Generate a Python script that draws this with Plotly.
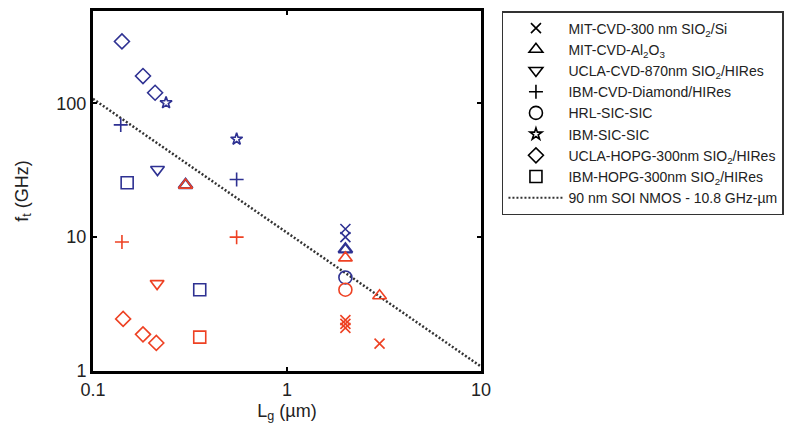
import plotly.graph_objects as go

BLUE = "#2e3192"
RED = "#ee4123"

# ---- data (Lg in um, ft in GHz) ----
mit_cvd_sio2_blue_x = [2.0, 2.0]
mit_cvd_sio2_blue_y = [11.5, 10.0]
mit_cvd_sio2_red_x = [2.0, 2.0, 2.0, 3.0]
mit_cvd_sio2_red_y = [2.4, 2.25, 2.1, 1.6]

mit_al2o3_blue_x = [0.30, 2.0]
mit_al2o3_blue_y = [24.5, 8.1]
mit_al2o3_red_x = [0.30, 2.0, 3.0]
mit_al2o3_red_y = [24.5, 7.0, 3.65]

ucla_cvd_blue_x = [0.215]
ucla_cvd_blue_y = [32]
ucla_cvd_red_x = [0.214]
ucla_cvd_red_y = [4.5]

ibm_diamond_blue_x = [0.139, 0.55]
ibm_diamond_blue_y = [69, 27]
ibm_diamond_red_x = [0.141, 0.55]
ibm_diamond_red_y = [9.2, 10.0]

hrl_sic_blue_x = [2.0]
hrl_sic_blue_y = [5.0]
hrl_sic_red_x = [2.0]
hrl_sic_red_y = [4.05]

ibm_sic_blue_x = [0.238, 0.55]
ibm_sic_blue_y = [101, 54]

ucla_hopg_blue_x = [0.141, 0.181, 0.209]
ucla_hopg_blue_y = [290, 160, 120]
ucla_hopg_red_x = [0.143, 0.181, 0.212]
ucla_hopg_red_y = [2.45, 1.88, 1.62]

ibm_hopg_blue_x = [0.15, 0.355]
ibm_hopg_blue_y = [25.5, 4.05]
ibm_hopg_red_x = [0.355]
ibm_hopg_red_y = [1.79]

soi_x = [0.1, 10]
soi_y = [108, 1.08]

legend_names = [
    "MIT-CVD-300 nm SIO<sub>2</sub>/Si",
    "MIT-CVD-Al<sub>2</sub>O<sub>3</sub>",
    "UCLA-CVD-870nm SIO<sub>2</sub>/HIRes",
    "IBM-CVD-Diamond/HIRes",
    "HRL-SIC-SIC",
    "IBM-SIC-SIC",
    "UCLA-HOPG-300nm SIO<sub>2</sub>/HIRes",
    "IBM-HOPG-300nm SIO<sub>2</sub>/HIRes",
    "90 nm SOI NMOS - 10.8 GHz-µm",
]

x_tick_vals = [0.1, 1, 10]
x_tick_text = ["0.1", "1", "10"]
y_tick_vals = [1, 10, 100]
y_tick_text = ["1", "10", "100"]

# symbol, size per series
series = [
    ("x-thin-open", 10, [(mit_cvd_sio2_blue_x, mit_cvd_sio2_blue_y, BLUE), (mit_cvd_sio2_red_x, mit_cvd_sio2_red_y, RED)]),
    ("triangle-up-open", 12, [(mit_al2o3_blue_x, mit_al2o3_blue_y, BLUE), (mit_al2o3_red_x, mit_al2o3_red_y, RED)]),
    ("triangle-down-open", 12, [(ucla_cvd_blue_x, ucla_cvd_blue_y, BLUE), (ucla_cvd_red_x, ucla_cvd_red_y, RED)]),
    ("cross-thin-open", 10, [(ibm_diamond_blue_x, ibm_diamond_blue_y, BLUE), (ibm_diamond_red_x, ibm_diamond_red_y, RED)]),
    ("circle-open", 13, [(hrl_sic_blue_x, hrl_sic_blue_y, BLUE), (hrl_sic_red_x, hrl_sic_red_y, RED)]),
    ("star-open", 9, [(ibm_sic_blue_x, ibm_sic_blue_y, BLUE)]),
    ("diamond-open", 11.5, [(ucla_hopg_blue_x, ucla_hopg_blue_y, BLUE), (ucla_hopg_red_x, ucla_hopg_red_y, RED)]),
    ("square-open", 12, [(ibm_hopg_blue_x, ibm_hopg_blue_y, BLUE), (ibm_hopg_red_x, ibm_hopg_red_y, RED)]),
]

fig = go.Figure()

fig.add_trace(go.Scatter(x=soi_x, y=soi_y, mode="lines",
                         line=dict(color="#333", width=2.5, dash="2px,2px"),
                         showlegend=False, hoverinfo="skip"))

for (sym, size, parts), name in zip(series, legend_names[:8]):
    for xs, ys, col in parts:
        lw = 2.4 if col == BLUE and sym == "triangle-up-open" else 1.6
        fig.add_trace(go.Scatter(x=xs, y=ys, mode="markers", showlegend=False,
                                 marker=dict(symbol=sym, size=size, color=col,
                                             line=dict(color=col, width=lw))))

# legend-only entries (black)
for (sym, size, parts), name in zip(series, legend_names[:8]):
    fig.add_trace(go.Scatter(x=[None], y=[None], mode="markers", name=name,
                             marker=dict(symbol=sym, size=size, color="black",
                                         line=dict(color="black", width=1.6))))
fig.add_trace(go.Scatter(x=[None], y=[None], mode="lines", name=legend_names[8],
                         line=dict(color="#333", width=2, dash="2px,2px")))

axis_common = dict(type="log", showgrid=False, zeroline=False, showline=True,
                   linecolor="black", linewidth=3, mirror="ticks", ticks="inside",
                   ticklen=4, tickcolor="black", tickwidth=1.5,
                   tickfont=dict(family="Liberation Sans, Arial", size=18, color="#222"))

fig.update_layout(
    width=793, height=433,
    margin=dict(l=93, r=312, t=8, b=62),
    paper_bgcolor="white", plot_bgcolor="white",
    font=dict(family="Liberation Sans, Arial", color="#222"),
    xaxis=dict(**axis_common, range=[-1, 1], tickvals=x_tick_vals, ticktext=x_tick_text,
               title=dict(text="L<sub>g</sub> (µm)", font=dict(size=18), standoff=6)),
    yaxis=dict(**axis_common, range=[0, 2.69], tickvals=y_tick_vals, ticktext=y_tick_text,
               title=dict(text="f<sub>t</sub> (GHz)", font=dict(size=18), standoff=24)),
    legend=dict(x=1.054, y=1.0, xanchor="left", yanchor="top",
                bordercolor="#333", borderwidth=1.5, bgcolor="white",
                font=dict(family="Liberation Sans, Arial", size=14, color="#222"),
                itemwidth=55, tracegroupgap=0),
    showlegend=True,
)

fig.write_html("out.html")
